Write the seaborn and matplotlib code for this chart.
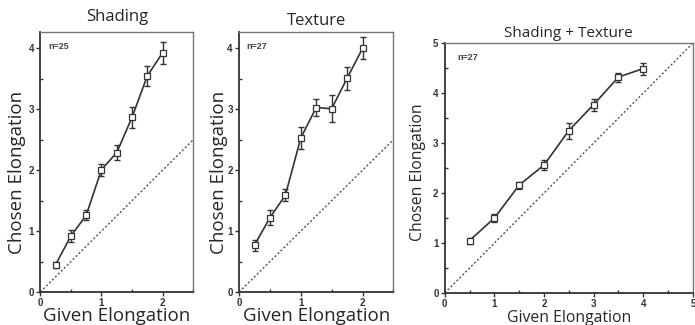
import numpy as np
import pandas as pd
import seaborn as sns
import matplotlib.pyplot as plt
from matplotlib.ticker import MultipleLocator

# data
given_small = [0.25, 0.5, 0.75, 1.0, 1.25, 1.5, 1.75, 2.0]
shading_mean = [0.45, 0.92, 1.26, 2.01, 2.29, 2.87, 3.55, 3.93]
shading_err = [0.05, 0.10, 0.08, 0.10, 0.13, 0.17, 0.17, 0.18]
texture_mean = [0.77, 1.22, 1.59, 2.53, 3.03, 3.01, 3.51, 4.0]
texture_err = [0.09, 0.12, 0.10, 0.18, 0.14, 0.22, 0.19, 0.18]

given_big = [0.5, 1.0, 1.5, 2.0, 2.5, 3.0, 3.5, 4.0]
both_mean = [1.05, 1.50, 2.16, 2.56, 3.25, 3.77, 4.32, 4.49]
both_err = [0.06, 0.08, 0.07, 0.10, 0.16, 0.12, 0.09, 0.12]

# title, n, x, y, err, xmax, ymax, axes rect, title baseline, xlabel baseline, ylabel x, font sizes
panels = [
    ("Shading", "n=25", given_small, shading_mean, shading_err, 2.5, 4.27,
     [0.058, 0.1015, 0.220, 0.80], 0.935, 0.012, 17, 12, 13.5),
    ("Texture", "n=27", given_small, texture_mean, texture_err, 2.5, 4.27,
     [0.344, 0.1015, 0.222, 0.80], 0.923, 0.012, 219, 12, 13.5),
    ("Shading + Texture", "n=27", given_big, both_mean, both_err, 5.0, 5.0,
     [0.640, 0.0985, 0.357, 0.769], 0.886, 0.008, 418, 11, 11.3),
]

sns.set_style("white")
plt.rcParams['font.family'] = ['Open Sans', 'DejaVu Sans']

fig = plt.figure(figsize=(6.95, 3.25), dpi=100)

for (title, ntext, x, y, err, xmax, ymax, pos,
     t_base, xl_base, yl_x, t_size, l_size) in panels:
    ax = fig.add_axes(pos)
    df = pd.DataFrame({"given": x, "chosen": y})
    ax.plot([0, xmax], [0, xmax], linestyle=(0, (1.5, 1.5)), color="#555555", lw=1.0)
    ax.errorbar(x, y, yerr=err, fmt="none", ecolor="#333333", elinewidth=1.0, capsize=2.5, capthick=1.0)
    sns.lineplot(data=df, x="given", y="chosen", ax=ax, color="#333333", lw=1.2,
                 marker="s", markersize=4.5, markerfacecolor="white",
                 markeredgecolor="#333333", markeredgewidth=0.9)
    ax.set_xlim(0, xmax)
    ax.set_ylim(0, ymax)
    ax.xaxis.set_major_locator(MultipleLocator(1))
    ax.yaxis.set_major_locator(MultipleLocator(1))
    ax.xaxis.set_minor_locator(MultipleLocator(0.5))
    ax.yaxis.set_minor_locator(MultipleLocator(0.5))
    ax.tick_params(which="major", direction="out", length=3, width=1, color="#333333",
                   labelsize=7, pad=1.5, left=True, bottom=True)
    ax.tick_params(which="minor", direction="in", length=2.5, width=1, color="#333333",
                   left=True, bottom=True)
    for lab in ax.get_xticklabels() + ax.get_yticklabels():
        lab.set_fontfamily("Liberation Sans")
        lab.set_fontweight("bold")
        lab.set_color("#333333")
    ax.set_xlabel("")
    ax.set_ylabel("")
    for side in ["left", "bottom"]:
        ax.spines[side].set_color("#333333")
        ax.spines[side].set_linewidth(1.3)
    for side in ["top", "right"]:
        ax.spines[side].set_color("#777777")
        ax.spines[side].set_linewidth(1.0)
    ax.text(0.05, 0.96, ntext, transform=ax.transAxes, fontsize=6.5, fontweight="bold",
            family="Liberation Sans", color="#444444", va="top", ha="left")

    cx = pos[0] + pos[2] / 2
    fig.text(cx, t_base, title, ha="center", va="baseline", fontsize=t_size)
    fig.text(cx, xl_base, "Given Elongation", ha="center", va="baseline", fontsize=l_size)
    fig.text(yl_x / 695, 1 - 172 / 325, "Chosen Elongation", rotation=90,
             ha="center", va="center", fontsize=l_size)

fig.savefig("out.png", dpi=100)
